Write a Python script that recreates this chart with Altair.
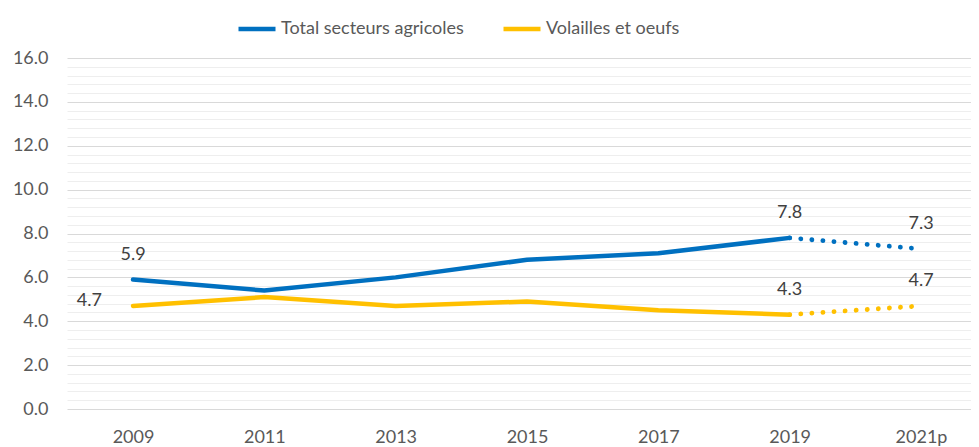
import altair as alt
import pandas as pd

years = ["2009", "2011", "2013", "2015", "2017", "2019", "2021p"]
total = [5.9, 5.4, 6.0, 6.8, 7.1, 7.8, 7.3]
volailles = [4.7, 5.1, 4.7, 4.9, 4.5, 4.3, 4.7]
series_names = ["Total secteurs agricoles", "Volailles et oeufs"]
colors = ["#0070C0", "#FFC000"]
label_years = ["2009", "2019", "2021p"]
y_ticks = [round(i * 0.4, 1) for i in range(41)]

rows = []
for name, vals in zip(series_names, [total, volailles]):
    for i, (yr, v) in enumerate(zip(years, vals)):
        if i <= 5:
            rows.append({"year": yr, "value": v, "series": name, "segment": "solid"})
        if i >= 5:
            rows.append({"year": yr, "value": v, "series": name, "segment": "proj"})
df = pd.DataFrame(rows)

lab_rows = []
for name, vals in zip(series_names, [total, volailles]):
    for yr, v in zip(years, vals):
        if yr in label_years:
            lab_rows.append({"year": yr, "value": v, "series": name,
                             "label": f"{v:.1f}"})
lab = pd.DataFrame(lab_rows)

FONT = "Lato"
TXT = "#595959"
FS = 18

x_enc = alt.X("year:N", sort=years,
              scale=alt.Scale(type="point", domain=years, padding=0.4416, align=0.569),
              axis=alt.Axis(title=None, labelAngle=0, domain=False, ticks=False,
                            grid=False, labelPadding=19, labelFontSize=FS,
                            labelColor=TXT, labelFont=FONT))
y_enc = alt.Y("value:Q",
              scale=alt.Scale(domain=[0, 16], nice=False, zero=True),
              axis=alt.Axis(title=None, values=y_ticks, domain=False, ticks=False,
                            labelExpr="datum.value % 2 === 0 ? format(datum.value, '.1f') : ''",
                            labelOverlap=False, labelFlush=False,
                            labelPadding=19, labelFontSize=FS, labelColor=TXT,
                            labelFont=FONT,
                            gridColor={"condition": {"test": "datum.value % 2 === 0",
                                                     "value": "#D9D9D9"},
                                       "value": "#EEEEEE"},
                            gridWidth=1))
color_enc = alt.Color("series:N",
                      scale=alt.Scale(domain=series_names, range=colors),
                      legend=alt.Legend(title=None, orient="none", legendX=169,
                                        legendY=-50, direction="horizontal",
                                        symbolType="stroke", symbolSize=1369,
                                        symbolStrokeWidth=4.5, symbolDash=[],
                                        labelFontSize=FS, labelColor=TXT,
                                        labelFont=FONT, labelOffset=3,
                                        labelLimit=0, columnPadding=30))

base = alt.Chart(df)
solid = base.transform_filter(alt.datum.segment == "solid").mark_line(
    strokeWidth=4.5, strokeCap="round", strokeJoin="round"
).encode(x=x_enc, y=y_enc, color=color_enc, detail="segment:N")

proj = base.transform_filter(alt.datum.segment == "proj").mark_line(
    strokeWidth=4.8, strokeCap="round", strokeDash=[0.1, 11]
).encode(x=x_enc, y=y_enc, color=color_enc, detail="segment:N")

lbase = alt.Chart(lab)
above = lbase.transform_filter(
    "datum.year != '2009' || datum.series == 'Total secteurs agricoles'"
).mark_text(dy=-25, fontSize=FS, color="#404040", font=FONT, baseline="middle").encode(
    x=x_enc, y=y_enc, text="label:N")
left = lbase.transform_filter(
    "datum.year == '2009' && datum.series == 'Volailles et oeufs'"
).mark_text(dx=-31, dy=-5, align="right", fontSize=FS, color="#404040", font=FONT,
            baseline="middle").encode(x=x_enc, y=y_enc, text="label:N")

chart = alt.layer(solid, proj, above, left).properties(
    width=904, height=351,
    padding={"left": 4, "top": 0, "right": 0, "bottom": 0},
    background="white",
).configure_view(stroke=None)

chart.save("out.html", embed_options={"renderer": "svg", "actions": False})
